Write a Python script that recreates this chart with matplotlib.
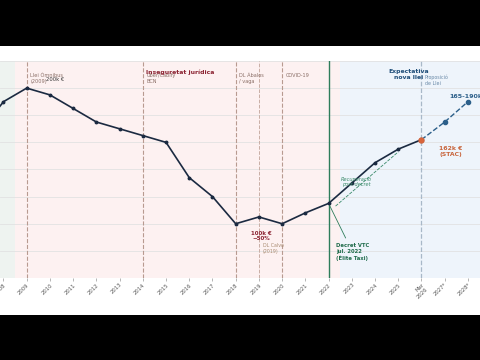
import matplotlib
matplotlib.use("Agg")
import matplotlib.pyplot as plt
from matplotlib.patches import Rectangle

# preu mitjà llicència taxi (k €), llegit del gràfic
years = ["2007", "2008", "2009", "2010", "2011", "2012", "2013", "2014", "2015",
         "2016", "2017", "2018", "2019", "2020", "2021", "2022", "2023", "2024",
         "2025", "Mar\n2026", "2027*", "2028*"]
hist_values = [168, 190, 200, 195, 185, 175, 170, 165, 160, 134, 120, 100,
               105, 100, 108, 115, 130, 145, 155, 162]
proj_values = [162, 175, 190]

recovery_x = [15.3, 18.0]
recovery_y = [113, 153]

events = [
    (2, "Llei Òmnibus\n(2009)"),
    (7, "Uber/Cabify\nBCN"),
    (11, "DL Ábalos\n/ vaga"),
    (13, "COVID-19"),
]

x = list(range(len(years)))
n_hist = len(hist_values)
proj_x = x[n_hist - 1:]

fig = plt.figure(figsize=(4.8, 3.6), dpi=100, facecolor="white")
# franges negres (format vídeo)
fig.patches.append(Rectangle((0, 0.872), 1, 0.2, transform=fig.transFigure,
                             facecolor="black", edgecolor="none", zorder=10))
fig.patches.append(Rectangle((0, 0), 1, 0.125, transform=fig.transFigure,
                             facecolor="black", edgecolor="none", zorder=10))
ax = fig.add_axes([0, 0.2278, 1, 0.6028])
ax.set_facecolor("white")

# zones de fons
ax.axvspan(0.5, 1.5, color="#eef3f0", zorder=0, lw=0)
ax.axvspan(1.5, 15.5, color="#fdf1f1", zorder=0, lw=0)
ax.axvspan(15.5, 22, color="#eef4fb", zorder=0, lw=0)

for v in range(60, 221, 20):
    ax.axhline(v, color="#e2e2e2", lw=0.6, zorder=1)

for xi, label in events:
    ax.axvline(xi, color="#b89a90", ls="--", lw=0.8, zorder=2)
    ax.text(xi + 0.15, 211, label, fontsize=3.6, color="#8a6e66", va="top", ha="left", zorder=5)
ax.axvline(12, color="#c9aea5", ls="--", lw=0.7, zorder=2)
ax.axvline(15, color="#2e7d5b", lw=1.0, zorder=2)
ax.axvline(19, color="#a8b8c8", ls="--", lw=0.9, zorder=2)

ax.plot(x[:n_hist], hist_values, color="#1b2a41", lw=1.2, marker="o", ms=1.8, zorder=4)
ax.plot(proj_x, proj_values, color="#2c5f8a", lw=1.0, ls="--", marker="o", ms=3, zorder=4)
ax.plot([19], [hist_values[-1]], marker="o", ms=3.5, color="#d9653b", zorder=6)
ax.plot(recovery_x, recovery_y, color="#3a8a6a", lw=0.6, ls=(0, (4, 1.5)), zorder=3)

ax.text(7.15, 214, "Inseguretat jurídica", fontsize=4.4, color="#8b2332",
        fontweight="bold", va="top", ha="left", zorder=5)
ax.text(2.85, 206, "200k €", fontsize=3.8, color="#333333", va="center", ha="left", zorder=5)
ax.text(12.09, 91, "100k €\n−50%", fontsize=4.0, color="#8b2332", fontweight="bold",
        va="center", ha="center", zorder=5)
ax.text(12.17, 82, "DL Calvo\n(2019)", fontsize=3.4, color="#a88a70", va="center", ha="left", zorder=5)
ax.text(16.2, 131, "Recuperació\npost-decret", fontsize=3.6, color="#3a8a6a",
        style="italic", va="center", ha="center", zorder=5)
ax.annotate("Decret VTC\njul. 2022\n(Èlite Taxi)", xy=(15, 115), xytext=(15.32, 79),
            fontsize=3.8, color="#1e6b4a", fontweight="bold", va="center", ha="left",
            arrowprops=dict(arrowstyle="-", color="#2e7d5b", lw=0.6), zorder=5)
ax.text(18.45, 214, "Expectativa\nnova llei", fontsize=4.4, color="#1f4e79",
        fontweight="bold", va="top", ha="center", multialignment="center", zorder=5)
ax.text(19.15, 210, "Proposició\nde Llei", fontsize=3.4, color="#6a8aa8", va="top", ha="left", zorder=5)
ax.text(20.2, 194, "165-190k", fontsize=4.6, color="#2c5f8a", fontweight="bold",
        va="center", ha="left", zorder=5)
ax.text(20.27, 153, "162k €\n(STAC)", fontsize=4.4, color="#c8643b", fontweight="bold",
        va="center", ha="center", zorder=5)

ax.set_xticks(x)
ax.set_xticklabels(years, rotation=45, ha="right", rotation_mode="anchor",
                   fontsize=3.8, color="#555555")
ax.tick_params(axis="x", length=2, width=0.5, color="#999999", pad=1)
ax.set_yticks([])
for s in ax.spines.values():
    s.set_visible(False)

# el gràfic original està retallat per l'esquerra
ax.set_xlim(0.85, 21.52)
ax.set_ylim(60, 220)

fig.savefig("out.png", dpi=100)
